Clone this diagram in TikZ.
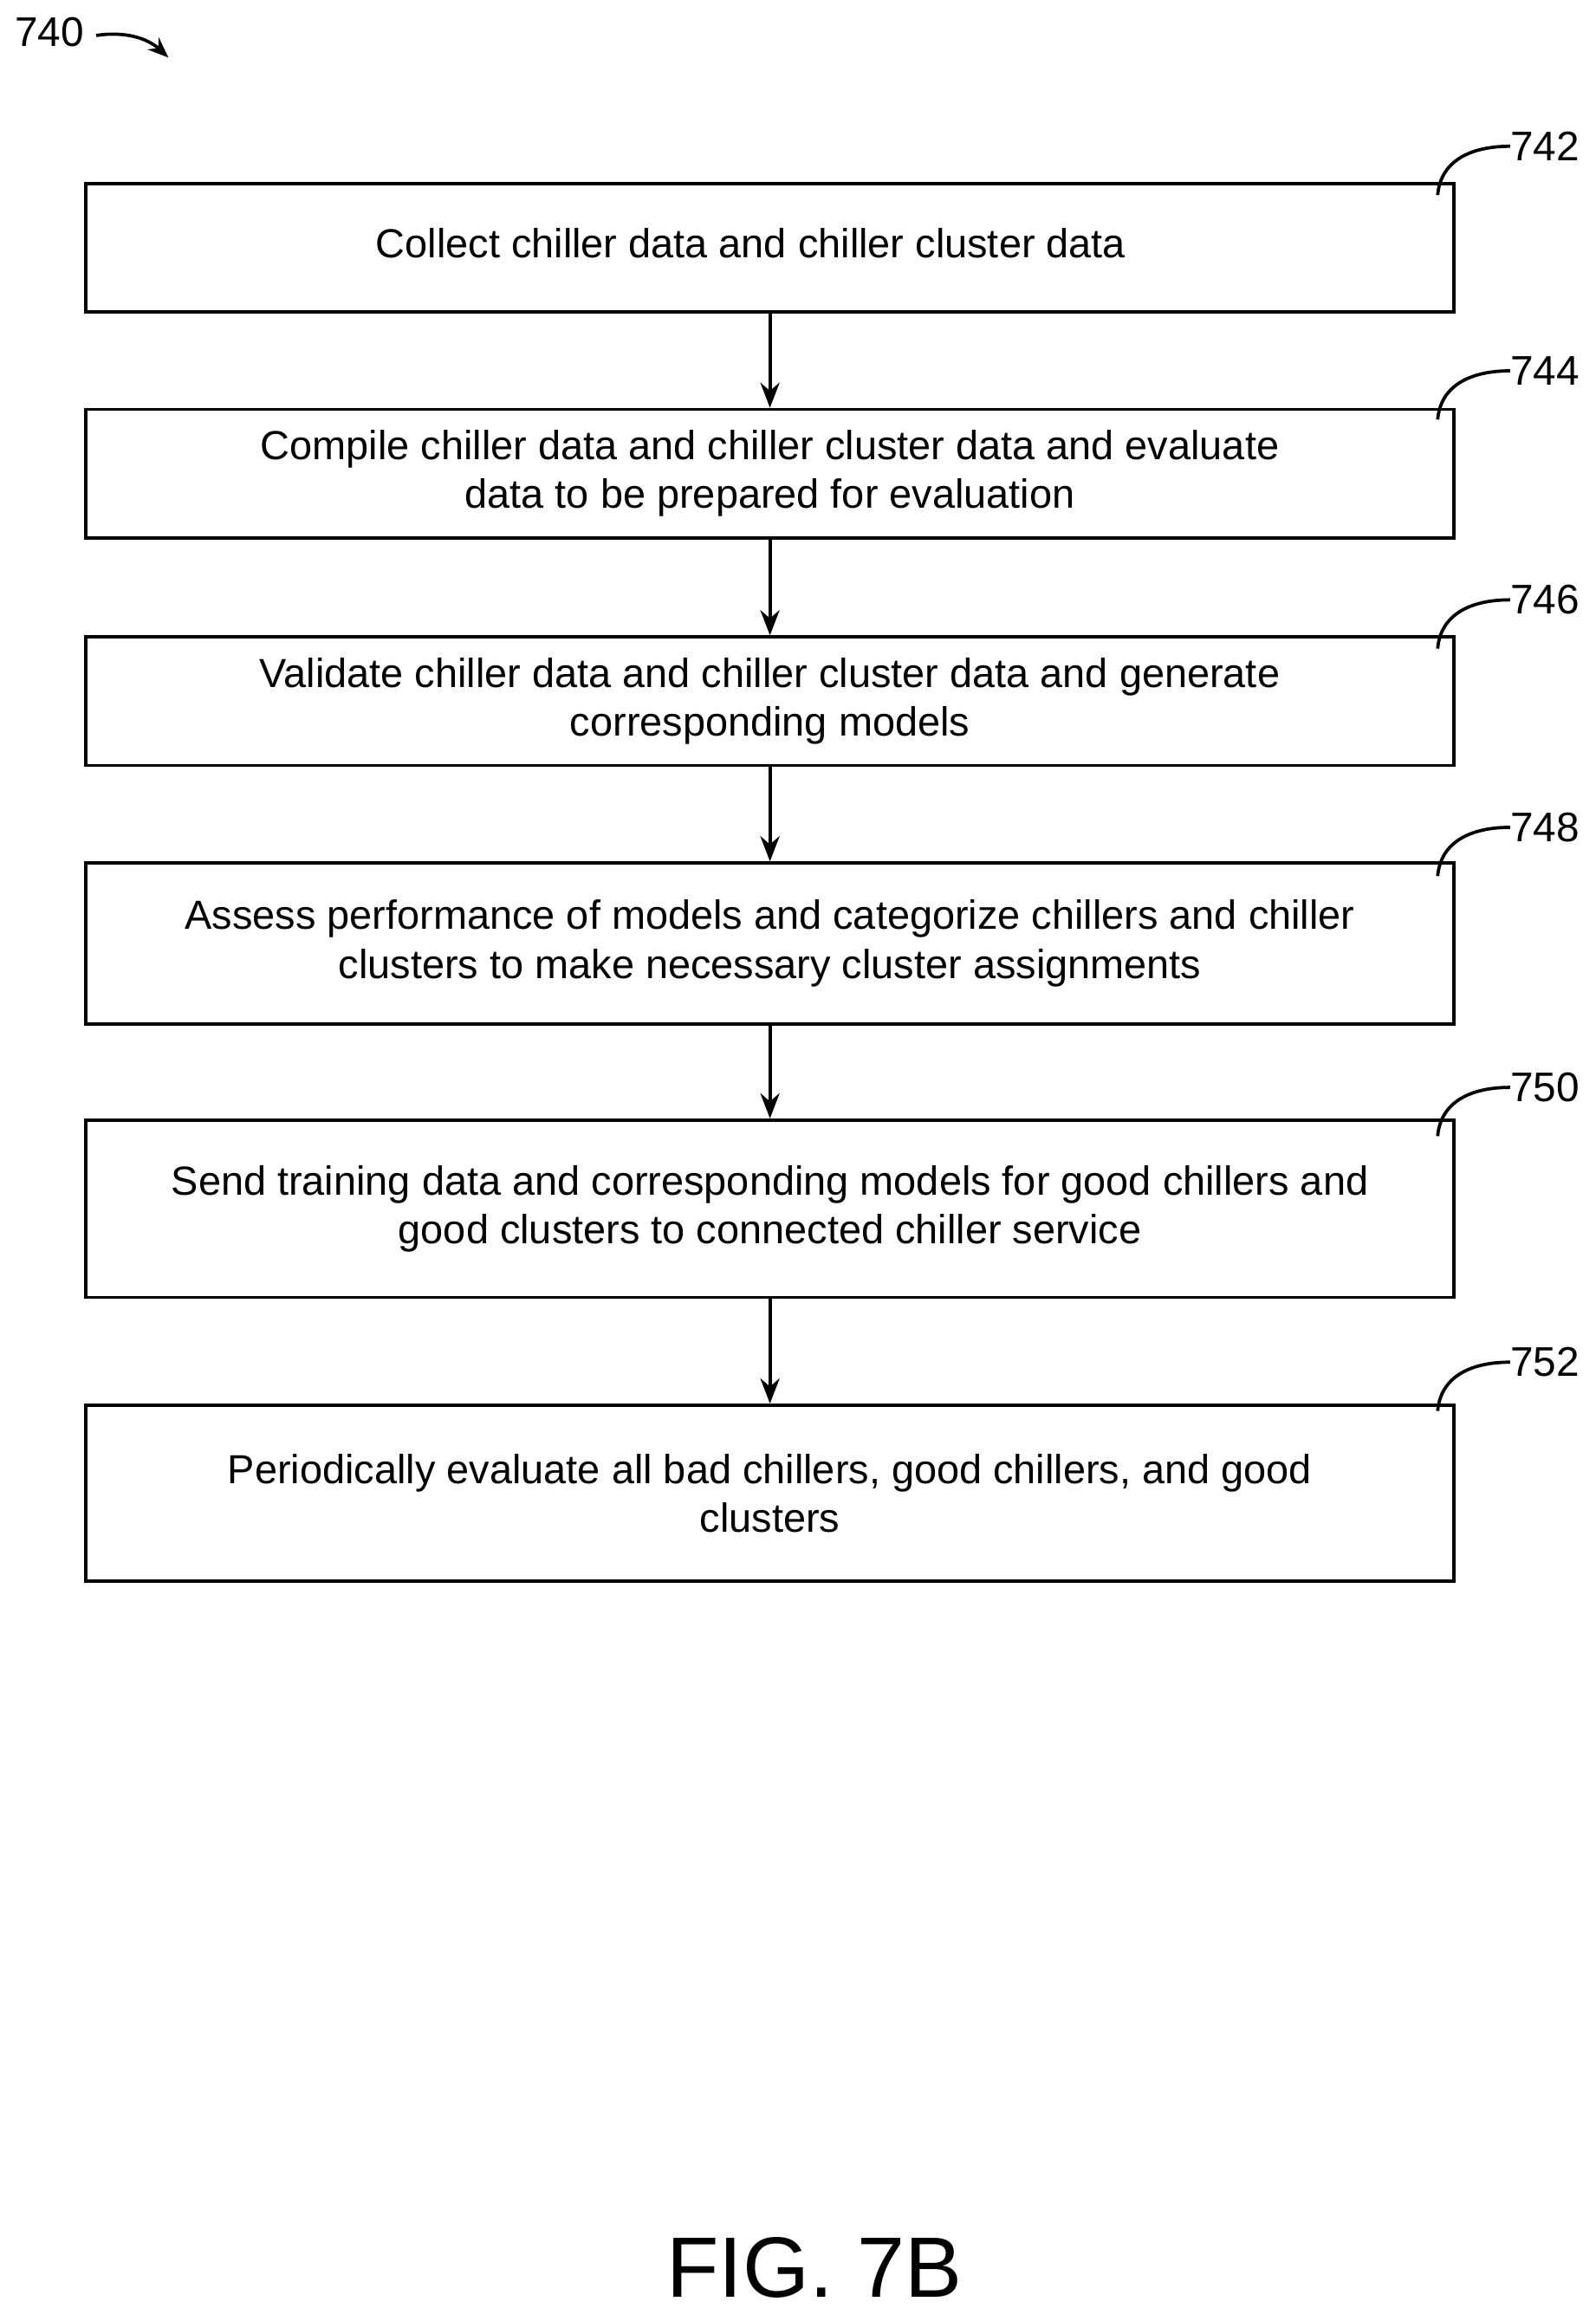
\documentclass[tikz,border=0pt]{standalone}
\usepackage{fontspec}
\setmainfont{Liberation Sans}
\usetikzlibrary{arrows.meta}
\begin{document}
\begin{tikzpicture}[x=1pt,y=-1pt,
  box/.style={draw,line width=2.2pt,minimum width=926pt,anchor=north west,inner sep=0pt,align=center,font=\fontsize{27.5}{33}\selectfont},
  arr/.style={line width=2.4pt,-{Stealth[length=17pt,width=13pt]}},
  lbl/.style={font=\fontsize{28}{30}\selectfont,inner sep=0pt},
  lead/.style={line width=2.2pt}]
\useasboundingbox (0,0) rectangle (1080,1571);
\node[box,minimum height=87pt] (b1) at (57,123) {\raisebox{3pt}{Collect chiller data and chiller cluster data\vphantom{g}}\hspace*{26pt}};
\node[box,minimum height=87pt] (b2) at (57,276) {Compile chiller data and chiller cluster data and evaluate\\ data to be prepared for evaluation};
\node[box,minimum height=87pt] (b3) at (57,430) {Validate chiller data and chiller cluster data and generate\\ corresponding models};
\node[box,minimum height=109pt] (b4) at (57,583) {Assess performance of models and categorize chillers and chiller\\ clusters to make necessary cluster assignments};
\node[box,minimum height=120pt] (b5) at (57,757) {Send training data and corresponding models for good chillers and\\ good clusters to connected chiller service};
\node[box,minimum height=119pt] (b6) at (57,950) {Periodically evaluate all bad chillers, good chillers, and good\\ clusters};
\foreach \a/\b in {b1/b2,b2/b3,b3/b4,b4/b5,b5/b6}
  \draw[arr] (\a.south) -- (\b.north);
\foreach \n/\y/\t in {b1/99/742,b2/251/744,b3/406/746,b4/560/748,b5/736/750,b6/922/752}{
  \node[lbl,anchor=west] (l\t) at (1022,\y) {\t};
  \draw[lead] (973,\y+33) .. controls (975,\y+10) and (995,\y) .. (l\t.west);
}
\node[lbl,anchor=west] (l740) at (10,22) {740};
\coordinate (t740) at (114,39);
\draw[lead,-{Stealth[length=14pt,width=11pt]}] (l740.east) ++(8,2) .. controls (85,21) and (100,26) .. (t740);
\node[font=\fontsize{58}{64}\selectfont,inner sep=0pt] (fig) at (551,1535) {FIG. 7B};
\end{tikzpicture}
\end{document}
